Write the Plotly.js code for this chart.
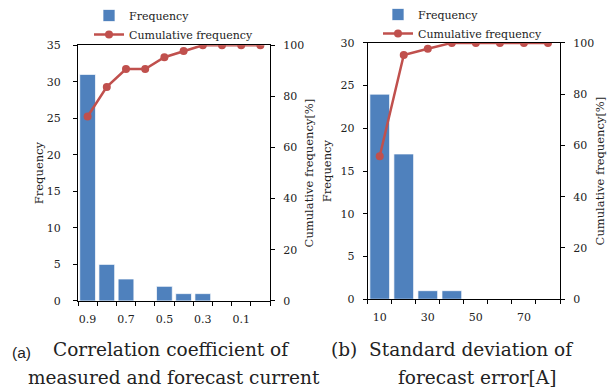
<!DOCTYPE html>
<html>
<head>
<meta charset="utf-8">
<script src="https://cdn.plot.ly/plotly-3.0.1.min.js"></script>
<style>html,body{margin:0;padding:0;background:#fff;}#chart{width:614px;height:390px;}</style>
</head>
<body>
<div id="chart"></div>
<script>
// (a) correlation coefficient of measured and forecast current
var binsA = ['0.9', '0.8', '0.7', '0.6', '0.5', '0.4', '0.3', '0.2', '0.1', '0.0'];
var freqA = [31, 5, 3, 0, 2, 1, 1, 0, 0, 0];
var cumA = [72.1, 83.7, 90.7, 90.7, 95.3, 97.7, 100, 100, 100, 100];
var tickLabelsA = ['0.9', '0.7', '0.5', '0.3', '0.1'];

// (b) standard deviation of forecast error [A]
var binsB = ['10', '20', '30', '40', '50', '60', '70', '80'];
var freqB = [24, 17, 1, 1, 0, 0, 0, 0];
var cumB = [55.8, 95.3, 97.7, 100, 100, 100, 100, 100];
var tickLabelsB = ['10', '30', '50', '70'];

var idxA = binsA.map(function (b, i) { return i; });
var idxB = binsB.map(function (b, i) { return i; });
function tickPos(bins, labels) { return labels.map(function (l) { return bins.indexOf(l); }); }

var W = 614, H = 390;
var serif = 'DejaVu Serif';
var barColor = '#4F81BD', lineColor = '#C0504D';

function px(x) { return x / W; }
function py(y) { return 1 - y / H; }

var traces = [
  { type: 'bar', name: 'Frequency', x: idxA, y: freqA, xaxis: 'x', yaxis: 'y',
    marker: { color: barColor, line: { color: 'rgba(255,255,255,0.7)', width: 1 } }, legend: 'legend' },
  { type: 'scatter', mode: 'lines+markers', name: 'Cumulative frequency', x: idxA, y: cumA, xaxis: 'x', yaxis: 'y2',
    line: { color: lineColor, width: 2.5 }, marker: { color: lineColor, size: 8 }, legend: 'legend' },
  { type: 'bar', name: 'Frequency', x: idxB, y: freqB, xaxis: 'x2', yaxis: 'y3',
    marker: { color: barColor, line: { color: 'rgba(255,255,255,0.7)', width: 1 } }, legend: 'legend2' },
  { type: 'scatter', mode: 'lines+markers', name: 'Cumulative frequency', x: idxB, y: cumB, xaxis: 'x2', yaxis: 'y4',
    line: { color: lineColor, width: 2.5 }, marker: { color: lineColor, size: 8 }, legend: 'legend2' }
];

function xAxis(domain, anchor, n, bins, labels) {
  return {
    domain: domain, anchor: anchor, range: [-0.5, n - 0.5],
    tickmode: 'array', tickvals: tickPos(bins, labels), ticktext: labels,
    ticks: '', showgrid: false, zeroline: false,
    showline: true, linecolor: '#000', linewidth: 1, mirror: true,
    tickfont: { family: serif, size: 11, color: '#222' }, ticklabelstandoff: 8,
    minor: { tickmode: 'linear', tick0: -0.5, dtick: 1, ticks: 'outside', ticklen: 4, tickcolor: '#000', showgrid: false }
  };
}
function yAxis(domain, anchor, range, dtick, side, title, standoff, labelStandoff, overlay) {
  var a = {
    domain: domain, anchor: anchor, range: range, dtick: dtick, side: side,
    ticks: 'outside', ticklen: 4, tickcolor: '#000', showgrid: false, zeroline: false,
    showline: true, linecolor: '#000', linewidth: 1,
    tickfont: { family: serif, size: 11, color: '#222' }, ticklabelstandoff: labelStandoff,
    title: { text: title, font: { family: serif, size: 11.5, color: '#222' }, standoff: standoff }
  };
  if (overlay) a.overlaying = overlay;
  return a;
}

var domAy = [py(300.7), py(44.3)];
var domBy = [py(299), py(42)];

var layout = {
  width: W, height: H,
  margin: { l: 0, r: 0, t: 0, b: 0 },
  paper_bgcolor: '#fff', plot_bgcolor: 'rgba(0,0,0,0)',
  font: { family: serif, size: 11, color: '#222' },
  bargap: 0.18,
  showlegend: true,
  xaxis: xAxis([px(78), px(270)], 'y', binsA.length, binsA, tickLabelsA),
  yaxis: yAxis(domAy, 'x', [0, 35], 5, 'left', 'Frequency', 0, 10, null),
  yaxis2: yAxis(domAy, 'x', [0, 100], 20, 'right', 'Cumulative frequency[%]', 1, 6, 'y'),
  xaxis2: xAxis([px(367.7), px(560)], 'y3', binsB.length, binsB, tickLabelsB),
  yaxis3: yAxis(domBy, 'x2', [0, 30], 5, 'left', 'Frequency', 6, 6, null),
  yaxis4: yAxis(domBy, 'x2', [0, 100], 20, 'right', 'Cumulative frequency[%]', 2, 6, 'y3'),
  legend: { x: px(89), y: py(1), xanchor: 'left', yanchor: 'top', bgcolor: 'rgba(0,0,0,0)',
    font: { family: serif, size: 11, color: '#222' }, tracegroupgap: 0, itemwidth: 30 },
  legend2: { x: px(378), y: py(-1), xanchor: 'left', yanchor: 'top', bgcolor: 'rgba(0,0,0,0)',
    font: { family: serif, size: 11, color: '#222' }, tracegroupgap: 0, itemwidth: 30 },
  annotations: [
    { text: '(a)', xref: 'paper', yref: 'paper', x: px(21), y: py(352), showarrow: false,
      xanchor: 'center', yanchor: 'middle', font: { family: 'Liberation Sans', size: 15.5, color: '#222' } },
    { text: 'Correlation coefficient of', xref: 'paper', yref: 'paper', x: px(170.5), y: py(349), showarrow: false,
      xanchor: 'center', yanchor: 'middle', font: { family: serif, size: 18.5, color: '#222' } },
    { text: 'measured and forecast current', xref: 'paper', yref: 'paper', x: px(174), y: py(377), showarrow: false,
      xanchor: 'center', yanchor: 'middle', font: { family: serif, size: 18.5, color: '#222' } },
    { text: '(b)  Standard deviation of', xref: 'paper', yref: 'paper', x: px(452), y: py(349), showarrow: false,
      xanchor: 'center', yanchor: 'middle', font: { family: serif, size: 18.5, color: '#222' } },
    { text: 'forecast error[A]', xref: 'paper', yref: 'paper', x: px(477), y: py(377), showarrow: false,
      xanchor: 'center', yanchor: 'middle', font: { family: serif, size: 18.5, color: '#222' } }
  ]
};

Plotly.newPlot('chart', traces, layout, { displayModeBar: false, staticPlot: true });
</script>
</body>
</html>
